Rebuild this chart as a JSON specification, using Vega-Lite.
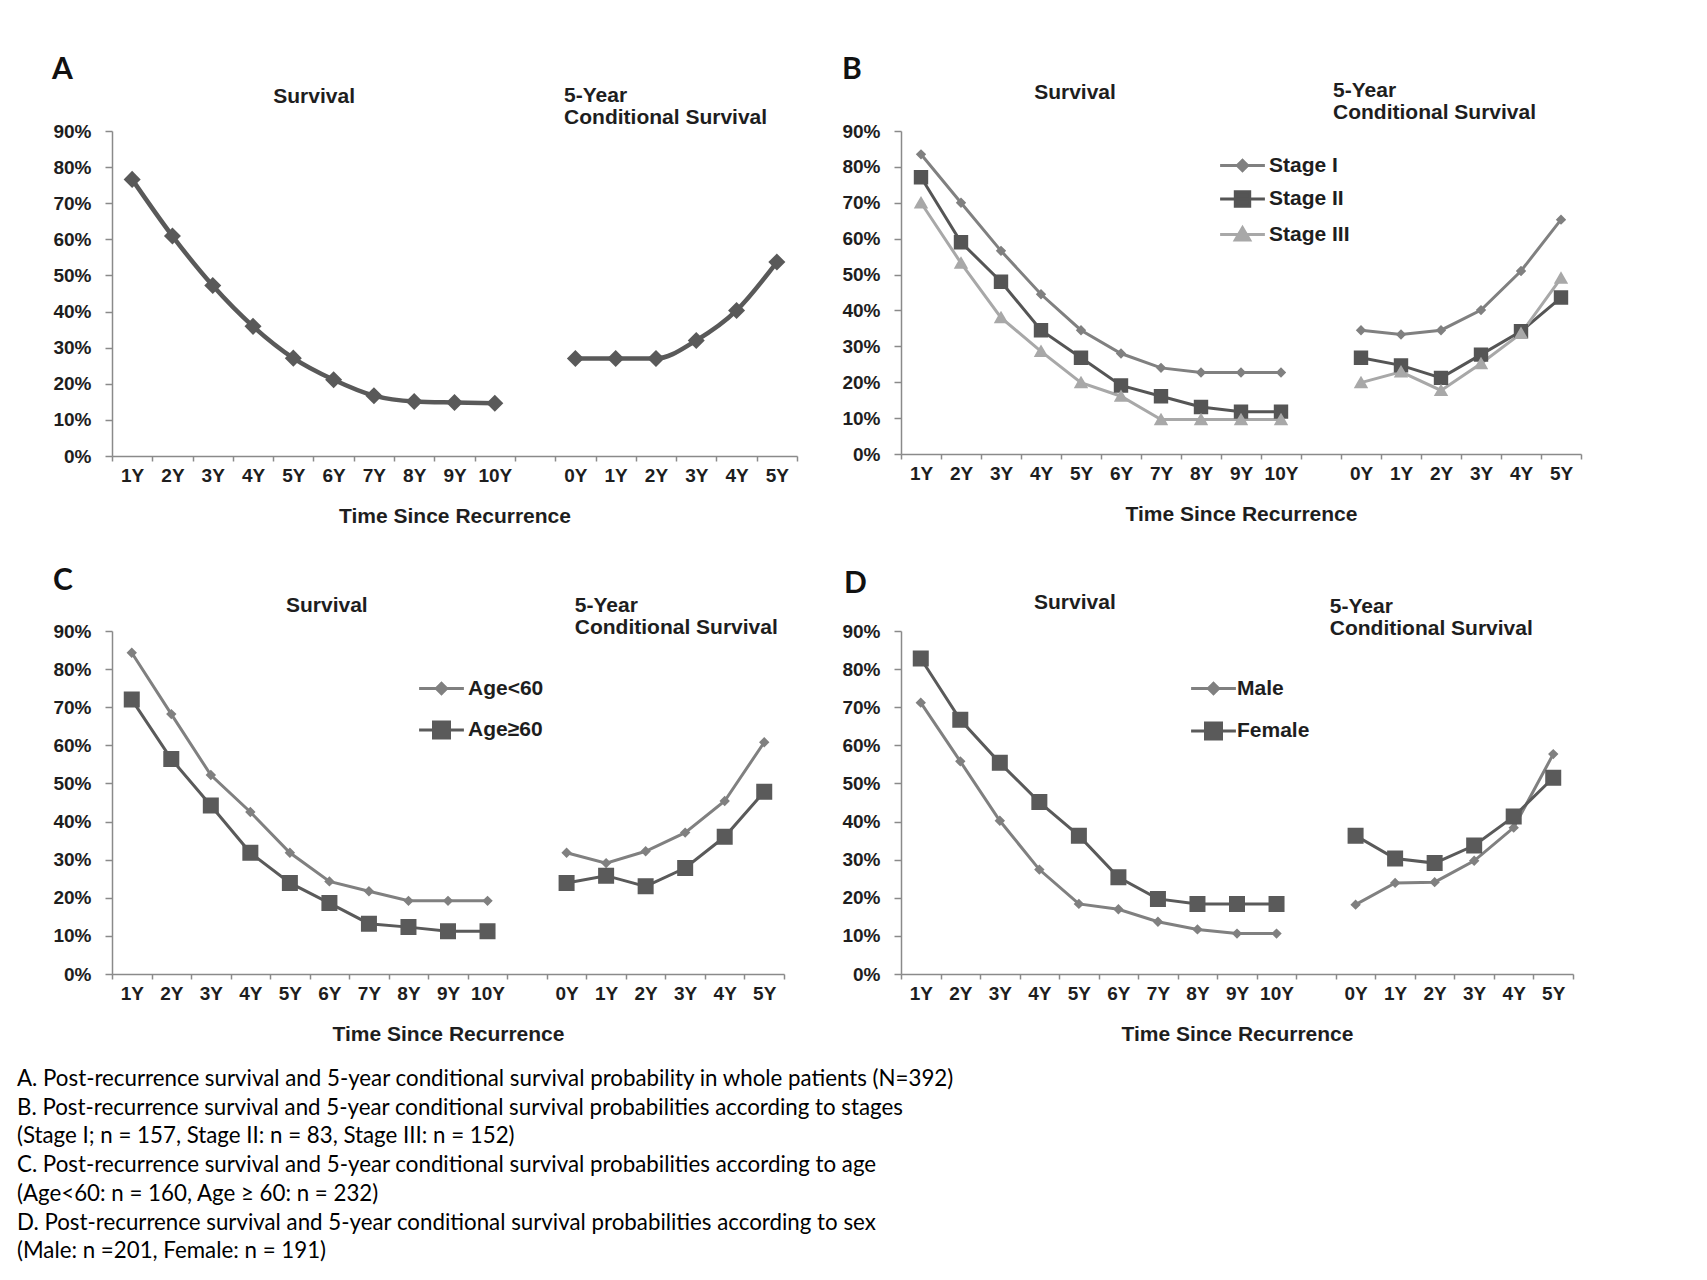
{
  "$schema": "https://vega.github.io/schema/vega-lite/v6.json",
  "background": "white",
  "padding": {"left": 17, "top": 54, "right": 10, "bottom": 10},
  "config": {
    "view": {"stroke": null},
    "font": "Liberation Sans",
    "axis": {"grid": false, "domainColor": "#8a8a8a", "domainWidth": 1.5, "tickColor": "#8a8a8a", "tickWidth": 1.5, "labelFont": "Liberation Sans", "labelFontSize": 19, "labelFontWeight": "bold", "labelColor": "#1e1e1e", "titleFont": "Liberation Sans", "titleFontSize": 21, "titleFontWeight": "bold", "titleColor": "#1e1e1e"},
    "axisX": {"tickSize": 5, "labelPadding": 5, "titlePadding": 20, "labelAngle": 0},
    "axisY": {"tickSize": 7, "labelPadding": 14},
    "legend": {"labelFont": "Liberation Sans", "labelFontSize": 21, "labelFontWeight": "bold", "labelColor": "#1e1e1e", "symbolSize": 256, "symbolStrokeWidth": 3, "padding": 0},
    "title": {"font": "Lato", "fontSize": 30, "fontWeight": "bold", "color": "#111111"}
  },
  "title": {
    "text": [
      "A. Post-recurrence survival and 5-year conditional survival probability in whole patients (N=392)",
      "B. Post-recurrence survival and 5-year conditional survival probabilities according to stages",
      "(Stage I; n = 157, Stage II: n = 83, Stage III: n = 152)",
      "C. Post-recurrence survival and 5-year conditional survival probabilities according to age",
      "(Age<60: n = 160, Age ≥ 60: n = 232)",
      "D. Post-recurrence survival and 5-year conditional survival probabilities according to sex",
      "(Male: n =201, Female: n = 191)"
    ],
    "orient": "bottom", "anchor": "start", "frame": "group", "font": "Lato", "fontSize": 22.3, "fontWeight": "normal", "lineHeight": 28.7, "color": "#000000", "dx": -95, "offset": 24, "baseline": "top"
  },
  "columns": 2,
  "bounds": "flush",
  "spacing": {"row": 175, "column": 104},
  "resolve": {
    "scale": {"color": "independent", "shape": "independent"},
    "legend": {"color": "independent", "shape": "independent"}
  },
  "concat": [
    {
      "width": 685, "height": 325,
      "title": {"text": "A", "anchor": "start", "frame": "group", "dx": -60, "baseline": "alphabetic", "offset": 0, "dy": 24},
      "resolve": {"axis": {"x": "independent"}},
      "data": {"values": [
        {"s": "All", "p": "S", "t": "S01Y", "v": 0.766}, {"s": "All", "p": "S", "t": "S02Y", "v": 0.609}, {"s": "All", "p": "S", "t": "S03Y", "v": 0.472}, {"s": "All", "p": "S", "t": "S04Y", "v": 0.359}, {"s": "All", "p": "S", "t": "S05Y", "v": 0.271},
        {"s": "All", "p": "S", "t": "S06Y", "v": 0.211}, {"s": "All", "p": "S", "t": "S07Y", "v": 0.167}, {"s": "All", "p": "S", "t": "S08Y", "v": 0.151}, {"s": "All", "p": "S", "t": "S09Y", "v": 0.148}, {"s": "All", "p": "S", "t": "S10Y", "v": 0.146},
        {"s": "All", "p": "C", "t": "C0Y", "v": 0.27}, {"s": "All", "p": "C", "t": "C1Y", "v": 0.27}, {"s": "All", "p": "C", "t": "C2Y", "v": 0.27}, {"s": "All", "p": "C", "t": "C3Y", "v": 0.32}, {"s": "All", "p": "C", "t": "C4Y", "v": 0.403}, {"s": "All", "p": "C", "t": "C5Y", "v": 0.537}
      ]},
      "encoding": {
        "x": {"field": "t", "type": "nominal", "scale": {"type": "band", "domain": ["S01Y","S02Y","S03Y","S04Y","S05Y","S06Y","S07Y","S08Y","S09Y","S10Y","GAP","C0Y","C1Y","C2Y","C3Y","C4Y","C5Y"], "paddingInner": 0, "paddingOuter": 0}, "axis": {"orient": "bottom", "tickBand": "extent", "labelExpr": "['1Y','2Y','3Y','4Y','5Y','6Y','7Y','8Y','9Y','10Y','','0Y','1Y','2Y','3Y','4Y','5Y'][indexof(['S01Y','S02Y','S03Y','S04Y','S05Y','S06Y','S07Y','S08Y','S09Y','S10Y','GAP','C0Y','C1Y','C2Y','C3Y','C4Y','C5Y'], datum.value)] || ''", "title": "Time Since Recurrence"}},
        "y": {"field": "v", "type": "quantitative", "scale": {"domain": [0, 0.9], "nice": false}, "axis": {"orient": "left", "values": [0, 0.1, 0.2, 0.3, 0.4, 0.5, 0.6, 0.7, 0.8, 0.9], "format": ".0%", "title": null}}
      },
      "layer": [
        {"mark": {"type": "line", "strokeWidth": 4.5, "color": "#595959", "interpolate": "monotone"}, "encoding": {"detail": {"field": "p"}}},
        {"mark": {"type": "point", "filled": true, "opacity": 1, "size": 290, "color": "#595959", "shape": "M-1,0L0,-1L1,0L0,1Z"},
         "encoding": {
           "x": {"field": "t", "type": "nominal", "scale": {"type": "band", "domain": ["S01Y","S02Y","S03Y","S04Y","S05Y","S06Y","S07Y","S08Y","S09Y","S10Y","GAP","C0Y","C1Y","C2Y","C3Y","C4Y","C5Y"], "paddingInner": 0, "paddingOuter": 0},
                 "axis": {"orient": "top", "values": ["S06Y", "GAP", "C0Y"], "domain": false, "ticks": false, "tickSize": 0, "grid": false, "title": null, "labelFontSize": 21, "labelBaseline": "alphabetic", "labelOverlap": false, "labelBound": false, "labelFlush": false, "labelAngle": 0, "labelLimit": 400,
                          "labelExpr": "datum.value === 'S06Y' ? 'Survival' : datum.value === 'GAP' ? '5-Year' : 'Conditional Survival'",
                          "labelAlign": {"condition": {"test": "datum.value === 'S06Y'", "value": "center"}, "value": "left"},
                          "labelOffset": {"condition": [{"test": "datum.value === 'S06Y'", "value": -19.5}, {"test": "datum.value === 'GAP'", "value": 29}], "value": -11.3},
                          "labelPadding": {"condition": [{"test": "datum.value === 'S06Y'", "value": 28.9}, {"test": "datum.value === 'GAP'", "value": 29.5}], "value": 7.5}}}
         }}
      ]
    },
    {
      "width": 680, "height": 323,
      "title": {"text": "B", "anchor": "start", "frame": "group", "dx": -59, "baseline": "alphabetic", "offset": 0, "dy": 29.5},
      "resolve": {"axis": {"x": "independent"}},
      "data": {"values": [
        {"s": "Stage I", "p": "S", "t": "S01Y", "v": 0.835}, {"s": "Stage I", "p": "S", "t": "S02Y", "v": 0.70}, {"s": "Stage I", "p": "S", "t": "S03Y", "v": 0.566}, {"s": "Stage I", "p": "S", "t": "S04Y", "v": 0.445}, {"s": "Stage I", "p": "S", "t": "S05Y", "v": 0.345},
        {"s": "Stage I", "p": "S", "t": "S06Y", "v": 0.28}, {"s": "Stage I", "p": "S", "t": "S07Y", "v": 0.24}, {"s": "Stage I", "p": "S", "t": "S08Y", "v": 0.227}, {"s": "Stage I", "p": "S", "t": "S09Y", "v": 0.227}, {"s": "Stage I", "p": "S", "t": "S10Y", "v": 0.227},
        {"s": "Stage I", "p": "C", "t": "C0Y", "v": 0.345}, {"s": "Stage I", "p": "C", "t": "C1Y", "v": 0.333}, {"s": "Stage I", "p": "C", "t": "C2Y", "v": 0.345}, {"s": "Stage I", "p": "C", "t": "C3Y", "v": 0.401}, {"s": "Stage I", "p": "C", "t": "C4Y", "v": 0.51}, {"s": "Stage I", "p": "C", "t": "C5Y", "v": 0.653},
        {"s": "Stage II", "p": "S", "t": "S01Y", "v": 0.771}, {"s": "Stage II", "p": "S", "t": "S02Y", "v": 0.59}, {"s": "Stage II", "p": "S", "t": "S03Y", "v": 0.48}, {"s": "Stage II", "p": "S", "t": "S04Y", "v": 0.345}, {"s": "Stage II", "p": "S", "t": "S05Y", "v": 0.268},
        {"s": "Stage II", "p": "S", "t": "S06Y", "v": 0.191}, {"s": "Stage II", "p": "S", "t": "S07Y", "v": 0.161}, {"s": "Stage II", "p": "S", "t": "S08Y", "v": 0.131}, {"s": "Stage II", "p": "S", "t": "S09Y", "v": 0.118}, {"s": "Stage II", "p": "S", "t": "S10Y", "v": 0.118},
        {"s": "Stage II", "p": "C", "t": "C0Y", "v": 0.268}, {"s": "Stage II", "p": "C", "t": "C1Y", "v": 0.247}, {"s": "Stage II", "p": "C", "t": "C2Y", "v": 0.212}, {"s": "Stage II", "p": "C", "t": "C3Y", "v": 0.277}, {"s": "Stage II", "p": "C", "t": "C4Y", "v": 0.342}, {"s": "Stage II", "p": "C", "t": "C5Y", "v": 0.436},
        {"s": "Stage III", "p": "S", "t": "S01Y", "v": 0.70}, {"s": "Stage III", "p": "S", "t": "S02Y", "v": 0.532}, {"s": "Stage III", "p": "S", "t": "S03Y", "v": 0.38}, {"s": "Stage III", "p": "S", "t": "S04Y", "v": 0.286}, {"s": "Stage III", "p": "S", "t": "S05Y", "v": 0.199},
        {"s": "Stage III", "p": "S", "t": "S06Y", "v": 0.161}, {"s": "Stage III", "p": "S", "t": "S07Y", "v": 0.096}, {"s": "Stage III", "p": "S", "t": "S08Y", "v": 0.096}, {"s": "Stage III", "p": "S", "t": "S09Y", "v": 0.096}, {"s": "Stage III", "p": "S", "t": "S10Y", "v": 0.096},
        {"s": "Stage III", "p": "C", "t": "C0Y", "v": 0.199}, {"s": "Stage III", "p": "C", "t": "C1Y", "v": 0.229}, {"s": "Stage III", "p": "C", "t": "C2Y", "v": 0.177}, {"s": "Stage III", "p": "C", "t": "C3Y", "v": 0.252}, {"s": "Stage III", "p": "C", "t": "C4Y", "v": 0.336}, {"s": "Stage III", "p": "C", "t": "C5Y", "v": 0.49}
      ]},
      "encoding": {
        "x": {"field": "t", "type": "nominal", "scale": {"type": "band", "domain": ["S01Y","S02Y","S03Y","S04Y","S05Y","S06Y","S07Y","S08Y","S09Y","S10Y","GAP","C0Y","C1Y","C2Y","C3Y","C4Y","C5Y"], "paddingInner": 0, "paddingOuter": 0}, "axis": {"orient": "bottom", "tickBand": "extent", "labelExpr": "['1Y','2Y','3Y','4Y','5Y','6Y','7Y','8Y','9Y','10Y','','0Y','1Y','2Y','3Y','4Y','5Y'][indexof(['S01Y','S02Y','S03Y','S04Y','S05Y','S06Y','S07Y','S08Y','S09Y','S10Y','GAP','C0Y','C1Y','C2Y','C3Y','C4Y','C5Y'], datum.value)] || ''", "title": "Time Since Recurrence"}},
        "y": {"field": "v", "type": "quantitative", "scale": {"domain": [0, 0.9], "nice": false}, "axis": {"orient": "left", "values": [0, 0.1, 0.2, 0.3, 0.4, 0.5, 0.6, 0.7, 0.8, 0.9], "format": ".0%", "title": null}}
      },
      "layer": [
        {"mark": {"type": "line", "strokeWidth": 3}, "encoding": {"color": {"field": "s", "type": "nominal", "scale": {"domain": ["Stage I", "Stage II", "Stage III"], "range": ["#808080", "#555555", "#a8a8a8"]}, "legend": {"orient": "none", "legendX": 331, "legendY": 24, "title": null, "labelOffset": 16, "rowPadding": 8.5, "symbolSize": 256, "symbolStrokeWidth": 3}}, "detail": {"field": "p"}}},
        {"mark": {"type": "point", "filled": true, "opacity": 1, "size": 256},
         "encoding": {
           "x": {"field": "t", "type": "nominal", "scale": {"type": "band", "domain": ["S01Y","S02Y","S03Y","S04Y","S05Y","S06Y","S07Y","S08Y","S09Y","S10Y","GAP","C0Y","C1Y","C2Y","C3Y","C4Y","C5Y"], "paddingInner": 0, "paddingOuter": 0},
                 "axis": {"orient": "top", "values": ["S05Y", "GAP", "C0Y"], "domain": false, "ticks": false, "tickSize": 0, "grid": false, "title": null, "labelFontSize": 21, "labelBaseline": "alphabetic", "labelOverlap": false, "labelBound": false, "labelFlush": false, "labelAngle": 0, "labelLimit": 400,
                          "labelExpr": "datum.value === 'S05Y' ? 'Survival' : datum.value === 'GAP' ? '5-Year' : 'Conditional Survival'",
                          "labelAlign": {"condition": {"test": "datum.value === 'S05Y'", "value": "center"}, "value": "left"},
                          "labelOffset": {"condition": [{"test": "datum.value === 'S05Y'", "value": -6}, {"test": "datum.value === 'GAP'", "value": 12}], "value": -28},
                          "labelPadding": {"condition": [{"test": "datum.value === 'S05Y'", "value": 32.5}, {"test": "datum.value === 'GAP'", "value": 34.5}], "value": 12.5}}},
           "color": {"field": "s", "type": "nominal", "scale": {"domain": ["Stage I", "Stage II", "Stage III"], "range": ["#808080", "#555555", "#a8a8a8"]}, "legend": {"orient": "none", "legendX": 331, "legendY": 24, "title": null, "labelOffset": 16, "rowPadding": 8.5, "symbolSize": 256, "symbolStrokeWidth": 3}},
           "shape": {"field": "s", "type": "nominal", "scale": {"domain": ["Stage I", "Stage II", "Stage III"], "range": ["M-2.8,0H-0.65L0,-0.65L0.65,0H2.8M0.65,0L0,0.65L-0.65,0Z", "M-2.8,0H-0.9V-0.9H0.9V0H2.8M0.9,0V0.9H-0.9V0Z", "M-2.8,0H-0.5L0,-0.85L0.5,0H2.8M0.5,0L0.9,0.7H-0.9L-0.5,0Z"]}, "legend": {"orient": "none", "legendX": 331, "legendY": 24, "title": null, "labelOffset": 16, "rowPadding": 8.5, "symbolSize": 256, "symbolStrokeWidth": 3}}
         }}
      ]
    },
    {
      "width": 672, "height": 343,
      "title": {"text": "C", "anchor": "start", "frame": "group", "dx": -59, "baseline": "alphabetic", "offset": 0, "dy": 25},
      "resolve": {"axis": {"x": "independent"}},
      "data": {"values": [
        {"s": "Age<60", "p": "S", "t": "S01Y", "v": 0.843}, {"s": "Age<60", "p": "S", "t": "S02Y", "v": 0.682}, {"s": "Age<60", "p": "S", "t": "S03Y", "v": 0.522}, {"s": "Age<60", "p": "S", "t": "S04Y", "v": 0.425}, {"s": "Age<60", "p": "S", "t": "S05Y", "v": 0.318},
        {"s": "Age<60", "p": "S", "t": "S06Y", "v": 0.243}, {"s": "Age<60", "p": "S", "t": "S07Y", "v": 0.217}, {"s": "Age<60", "p": "S", "t": "S08Y", "v": 0.192}, {"s": "Age<60", "p": "S", "t": "S09Y", "v": 0.192}, {"s": "Age<60", "p": "S", "t": "S10Y", "v": 0.192},
        {"s": "Age<60", "p": "C", "t": "C0Y", "v": 0.318}, {"s": "Age<60", "p": "C", "t": "C1Y", "v": 0.291}, {"s": "Age<60", "p": "C", "t": "C2Y", "v": 0.322}, {"s": "Age<60", "p": "C", "t": "C3Y", "v": 0.371}, {"s": "Age<60", "p": "C", "t": "C4Y", "v": 0.454}, {"s": "Age<60", "p": "C", "t": "C5Y", "v": 0.608},
        {"s": "Age≥60", "p": "S", "t": "S01Y", "v": 0.72}, {"s": "Age≥60", "p": "S", "t": "S02Y", "v": 0.564}, {"s": "Age≥60", "p": "S", "t": "S03Y", "v": 0.442}, {"s": "Age≥60", "p": "S", "t": "S04Y", "v": 0.318}, {"s": "Age≥60", "p": "S", "t": "S05Y", "v": 0.239},
        {"s": "Age≥60", "p": "S", "t": "S06Y", "v": 0.186}, {"s": "Age≥60", "p": "S", "t": "S07Y", "v": 0.132}, {"s": "Age≥60", "p": "S", "t": "S08Y", "v": 0.123}, {"s": "Age≥60", "p": "S", "t": "S09Y", "v": 0.112}, {"s": "Age≥60", "p": "S", "t": "S10Y", "v": 0.112},
        {"s": "Age≥60", "p": "C", "t": "C0Y", "v": 0.239}, {"s": "Age≥60", "p": "C", "t": "C1Y", "v": 0.258}, {"s": "Age≥60", "p": "C", "t": "C2Y", "v": 0.23}, {"s": "Age≥60", "p": "C", "t": "C3Y", "v": 0.278}, {"s": "Age≥60", "p": "C", "t": "C4Y", "v": 0.36}, {"s": "Age≥60", "p": "C", "t": "C5Y", "v": 0.478}
      ]},
      "encoding": {
        "x": {"field": "t", "type": "nominal", "scale": {"type": "band", "domain": ["S01Y","S02Y","S03Y","S04Y","S05Y","S06Y","S07Y","S08Y","S09Y","S10Y","GAP","C0Y","C1Y","C2Y","C3Y","C4Y","C5Y"], "paddingInner": 0, "paddingOuter": 0}, "axis": {"orient": "bottom", "tickBand": "extent", "labelExpr": "['1Y','2Y','3Y','4Y','5Y','6Y','7Y','8Y','9Y','10Y','','0Y','1Y','2Y','3Y','4Y','5Y'][indexof(['S01Y','S02Y','S03Y','S04Y','S05Y','S06Y','S07Y','S08Y','S09Y','S10Y','GAP','C0Y','C1Y','C2Y','C3Y','C4Y','C5Y'], datum.value)] || ''", "title": "Time Since Recurrence"}},
        "y": {"field": "v", "type": "quantitative", "scale": {"domain": [0, 0.9], "nice": false}, "axis": {"orient": "left", "values": [0, 0.1, 0.2, 0.3, 0.4, 0.5, 0.6, 0.7, 0.8, 0.9], "format": ".0%", "title": null}}
      },
      "layer": [
        {"mark": {"type": "line", "strokeWidth": 3}, "encoding": {"color": {"field": "s", "type": "nominal", "scale": {"domain": ["Age<60", "Age≥60"], "range": ["#808080", "#5a5a5a"]}, "legend": {"orient": "none", "legendX": 319, "legendY": 47, "title": null, "labelOffset": 16, "rowPadding": 15.5, "symbolSize": 256, "symbolStrokeWidth": 3}}, "detail": {"field": "p"}}},
        {"mark": {"type": "point", "filled": true, "opacity": 1, "size": 256},
         "encoding": {
           "x": {"field": "t", "type": "nominal", "scale": {"type": "band", "domain": ["S01Y","S02Y","S03Y","S04Y","S05Y","S06Y","S07Y","S08Y","S09Y","S10Y","GAP","C0Y","C1Y","C2Y","C3Y","C4Y","C5Y"], "paddingInner": 0, "paddingOuter": 0},
                 "axis": {"orient": "top", "values": ["S06Y", "GAP", "C0Y"], "domain": false, "ticks": false, "tickSize": 0, "grid": false, "title": null, "labelFontSize": 21, "labelBaseline": "alphabetic", "labelOverlap": false, "labelBound": false, "labelFlush": false, "labelAngle": 0, "labelLimit": 400,
                          "labelExpr": "datum.value === 'S06Y' ? 'Survival' : datum.value === 'GAP' ? '5-Year' : 'Conditional Survival'",
                          "labelAlign": {"condition": {"test": "datum.value === 'S06Y'", "value": "center"}, "value": "left"},
                          "labelOffset": {"condition": [{"test": "datum.value === 'S06Y'", "value": -2.6}, {"test": "datum.value === 'GAP'", "value": 47.7}], "value": 8.2},
                          "labelPadding": {"condition": [{"test": "datum.value === 'S06Y'", "value": 19.5}, {"test": "datum.value === 'GAP'", "value": 19.5}], "value": -2.5}}},
           "color": {"field": "s", "type": "nominal", "scale": {"domain": ["Age<60", "Age≥60"], "range": ["#808080", "#5a5a5a"]}, "legend": {"orient": "none", "legendX": 319, "legendY": 47, "title": null, "labelOffset": 16, "rowPadding": 15.5, "symbolSize": 256, "symbolStrokeWidth": 3}},
           "shape": {"field": "s", "type": "nominal", "scale": {"domain": ["Age<60", "Age≥60"], "range": ["M-2.8,0H-0.65L0,-0.65L0.65,0H2.8M0.65,0L0,0.65L-0.65,0Z", "M-2.8,0H-1V-1H1V0H2.8M1,0V1H-1V0Z"]}, "legend": {"orient": "none", "legendX": 319, "legendY": 47, "title": null, "labelOffset": 16, "rowPadding": 15.5, "symbolSize": 256, "symbolStrokeWidth": 3}}
         }}
      ]
    },
    {
      "width": 672, "height": 343,
      "title": {"text": "D", "anchor": "start", "frame": "group", "dx": -57, "baseline": "alphabetic", "offset": 0, "dy": 31.5},
      "resolve": {"axis": {"x": "independent"}},
      "data": {"values": [
        {"s": "Male", "p": "S", "t": "S01Y", "v": 0.712}, {"s": "Male", "p": "S", "t": "S02Y", "v": 0.558}, {"s": "Male", "p": "S", "t": "S03Y", "v": 0.402}, {"s": "Male", "p": "S", "t": "S04Y", "v": 0.274}, {"s": "Male", "p": "S", "t": "S05Y", "v": 0.184},
        {"s": "Male", "p": "S", "t": "S06Y", "v": 0.17}, {"s": "Male", "p": "S", "t": "S07Y", "v": 0.137}, {"s": "Male", "p": "S", "t": "S08Y", "v": 0.117}, {"s": "Male", "p": "S", "t": "S09Y", "v": 0.106}, {"s": "Male", "p": "S", "t": "S10Y", "v": 0.106},
        {"s": "Male", "p": "C", "t": "C0Y", "v": 0.182}, {"s": "Male", "p": "C", "t": "C1Y", "v": 0.239}, {"s": "Male", "p": "C", "t": "C2Y", "v": 0.241}, {"s": "Male", "p": "C", "t": "C3Y", "v": 0.297}, {"s": "Male", "p": "C", "t": "C4Y", "v": 0.384}, {"s": "Male", "p": "C", "t": "C5Y", "v": 0.577},
        {"s": "Female", "p": "S", "t": "S01Y", "v": 0.828}, {"s": "Female", "p": "S", "t": "S02Y", "v": 0.667}, {"s": "Female", "p": "S", "t": "S03Y", "v": 0.554}, {"s": "Female", "p": "S", "t": "S04Y", "v": 0.451}, {"s": "Female", "p": "S", "t": "S05Y", "v": 0.363},
        {"s": "Female", "p": "S", "t": "S06Y", "v": 0.254}, {"s": "Female", "p": "S", "t": "S07Y", "v": 0.197}, {"s": "Female", "p": "S", "t": "S08Y", "v": 0.184}, {"s": "Female", "p": "S", "t": "S09Y", "v": 0.184}, {"s": "Female", "p": "S", "t": "S10Y", "v": 0.184},
        {"s": "Female", "p": "C", "t": "C0Y", "v": 0.363}, {"s": "Female", "p": "C", "t": "C1Y", "v": 0.303}, {"s": "Female", "p": "C", "t": "C2Y", "v": 0.291}, {"s": "Female", "p": "C", "t": "C3Y", "v": 0.337}, {"s": "Female", "p": "C", "t": "C4Y", "v": 0.413}, {"s": "Female", "p": "C", "t": "C5Y", "v": 0.515}
      ]},
      "encoding": {
        "x": {"field": "t", "type": "nominal", "scale": {"type": "band", "domain": ["S01Y","S02Y","S03Y","S04Y","S05Y","S06Y","S07Y","S08Y","S09Y","S10Y","GAP","C0Y","C1Y","C2Y","C3Y","C4Y","C5Y"], "paddingInner": 0, "paddingOuter": 0}, "axis": {"orient": "bottom", "tickBand": "extent", "labelExpr": "['1Y','2Y','3Y','4Y','5Y','6Y','7Y','8Y','9Y','10Y','','0Y','1Y','2Y','3Y','4Y','5Y'][indexof(['S01Y','S02Y','S03Y','S04Y','S05Y','S06Y','S07Y','S08Y','S09Y','S10Y','GAP','C0Y','C1Y','C2Y','C3Y','C4Y','C5Y'], datum.value)] || ''", "title": "Time Since Recurrence"}},
        "y": {"field": "v", "type": "quantitative", "scale": {"domain": [0, 0.9], "nice": false}, "axis": {"orient": "left", "values": [0, 0.1, 0.2, 0.3, 0.4, 0.5, 0.6, 0.7, 0.8, 0.9], "format": ".0%", "title": null}}
      },
      "layer": [
        {"mark": {"type": "line", "strokeWidth": 3}, "encoding": {"color": {"field": "s", "type": "nominal", "scale": {"domain": ["Male", "Female"], "range": ["#808080", "#5a5a5a"]}, "legend": {"orient": "none", "legendX": 302, "legendY": 47, "title": null, "labelOffset": 13, "rowPadding": 16.5, "symbolSize": 256, "symbolStrokeWidth": 3}}, "detail": {"field": "p"}}},
        {"mark": {"type": "point", "filled": true, "opacity": 1, "size": 256},
         "encoding": {
           "x": {"field": "t", "type": "nominal", "scale": {"type": "band", "domain": ["S01Y","S02Y","S03Y","S04Y","S05Y","S06Y","S07Y","S08Y","S09Y","S10Y","GAP","C0Y","C1Y","C2Y","C3Y","C4Y","C5Y"], "paddingInner": 0, "paddingOuter": 0},
                 "axis": {"orient": "top", "values": ["S05Y", "GAP", "C0Y"], "domain": false, "ticks": false, "tickSize": 0, "grid": false, "title": null, "labelFontSize": 21, "labelBaseline": "alphabetic", "labelOverlap": false, "labelBound": false, "labelFlush": false, "labelAngle": 0, "labelLimit": 400,
                          "labelExpr": "datum.value === 'S05Y' ? 'Survival' : datum.value === 'GAP' ? '5-Year' : 'Conditional Survival'",
                          "labelAlign": {"condition": {"test": "datum.value === 'S05Y'", "value": "center"}, "value": "left"},
                          "labelOffset": {"condition": [{"test": "datum.value === 'S05Y'", "value": -4}, {"test": "datum.value === 'GAP'", "value": 13.7}], "value": -25.8},
                          "labelPadding": {"condition": [{"test": "datum.value === 'S05Y'", "value": 23}, {"test": "datum.value === 'GAP'", "value": 19}], "value": -3}}},
           "color": {"field": "s", "type": "nominal", "scale": {"domain": ["Male", "Female"], "range": ["#808080", "#5a5a5a"]}, "legend": {"orient": "none", "legendX": 302, "legendY": 47, "title": null, "labelOffset": 13, "rowPadding": 16.5, "symbolSize": 256, "symbolStrokeWidth": 3}},
           "shape": {"field": "s", "type": "nominal", "scale": {"domain": ["Male", "Female"], "range": ["M-2.8,0H-0.65L0,-0.65L0.65,0H2.8M0.65,0L0,0.65L-0.65,0Z", "M-2.8,0H-1V-1H1V0H2.8M1,0V1H-1V0Z"]}, "legend": {"orient": "none", "legendX": 302, "legendY": 47, "title": null, "labelOffset": 13, "rowPadding": 16.5, "symbolSize": 256, "symbolStrokeWidth": 3}}
         }}
      ]
    }
  ]
}
